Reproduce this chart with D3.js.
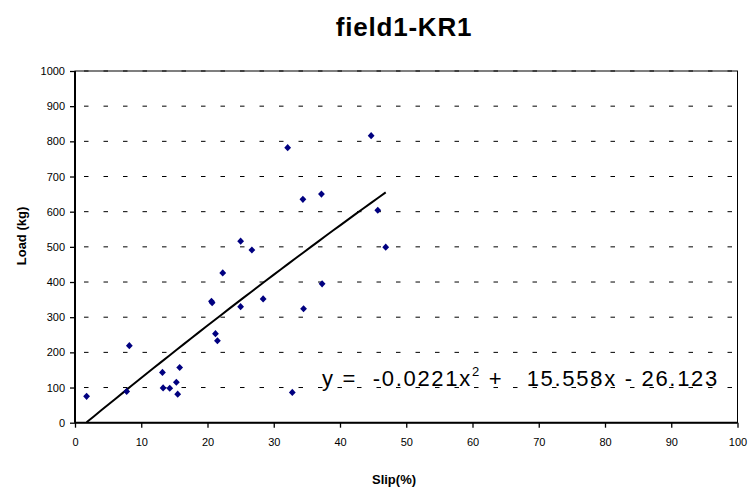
<!DOCTYPE html>
<html><head><meta charset="utf-8">
<script src="https://cdn.jsdelivr.net/npm/d3@7"></script>
<style>body{margin:0;background:#fff}svg{display:block}</style>
</head><body><svg id="c" width="750" height="495"></svg>
<script>
const slip = [1.75,7.8,8.2,13.2,13.3,14.3,15.3,15.5,15.8,20.6,20.7,21.2,21.5,22.3,25.0,25.0,26.7,28.4,32.1,32.8,34.4,34.5,37.2,37.3,44.7,45.7,46.9];
const load = [75,89,219,143,99,98,115,81,157,345,341,253,233,426,330,516,491,352,782,86,635,324,650,395,816,604,499];
const xTicks = [0,10,20,30,40,50,60,70,80,90,100];
const yTicks = [0,100,200,300,400,500,600,700,800,900,1000];
const coef = [-0.0221, 15.558, -26.123];
const title = "field1-KR1";
const xLabel = "Slip(%)";
const yLabel = "Load (kg)";

const svg = d3.select("#c");
const L=75, R=737.5, T=71, B=422.7;
const x = d3.scaleLinear().domain([0,100]).range([L,R]);
const y = d3.scaleLinear().domain([0,1000]).range([B,T]);
const font = "Liberation Sans, Arial, sans-serif";

// grid
svg.append("g").selectAll("line").data(yTicks.filter(d=>d>0)).join("line")
  .attr("x1",L).attr("x2",R).attr("y1",d=>y(d)).attr("y2",d=>y(d))
  .attr("stroke","#000").attr("stroke-width",1).attr("stroke-dasharray","4.5,15").attr("stroke-dashoffset",-9);
// border
svg.append("rect").attr("x",L).attr("y",T).attr("width",R-L).attr("height",B-T)
  .attr("fill","none").attr("stroke","#000").attr("stroke-width",1);

const xa = svg.append("g").attr("transform",`translate(0,${B})`)
  .call(d3.axisBottom(x).tickValues(xTicks).tickSize(5).tickPadding(11).tickFormat(d3.format("d")));
const ya = svg.append("g").attr("transform",`translate(${L},0)`)
  .call(d3.axisLeft(y).tickValues(yTicks).tickSize(5).tickPadding(5).tickFormat(d3.format("d")));
[xa,ya].forEach(a=>{
  a.select(".domain").attr("stroke","#000").attr("stroke-width",2);
  a.selectAll(".tick line").attr("stroke","#000").attr("stroke-width",1.3);
  a.selectAll("text").attr("font-family",font).attr("font-size",11).attr("fill","#000");
});
xa.select(".domain").attr("d",`M${L},0H${R}`);
ya.select(".domain").attr("d",`M0,${T}V${B}`);

// trendline
const f = v => coef[0]*v*v + coef[1]*v + coef[2];
const xmin = d3.min(slip), xmax = d3.max(slip);
const pts = d3.range(0,41).map(i => xmin + (xmax-xmin)*i/40);
svg.append("path").datum(pts)
  .attr("d", d3.line().x(d=>x(d)).y(d=>y(f(d))))
  .attr("fill","none").attr("stroke","#000").attr("stroke-width",2);

// points
const data = slip.map((s,i)=>({s, l:load[i]}));
svg.append("g").selectAll("path").data(data).join("path")
  .attr("transform",d=>`translate(${x(d.s)},${y(d.l)})`)
  .attr("d", "M0,-3.6L3.4,0L0,3.6L-3.4,0Z")
  .attr("fill","#000080");

// equation
const eq = svg.append("text").attr("x",322).attr("y",386)
  .attr("font-family",font).attr("font-size",22).attr("letter-spacing",1.7).attr("fill","#000")
  .attr("xml:space","preserve").style("white-space","pre");
eq.append("tspan").text("y =  -0.0221x");
eq.append("tspan").attr("font-size",13).attr("dy",-10).text("2");
eq.append("tspan").attr("dy",10).text(" +   15.558x - 26.123");

// title and labels
svg.append("text").attr("x",404).attr("y",36).attr("text-anchor","middle")
  .attr("font-family",font).attr("font-weight","bold").attr("font-size",26).attr("letter-spacing",0.8).text(title);
svg.append("text").attr("x",394).attr("y",484).attr("text-anchor","middle")
  .attr("font-family",font).attr("font-weight","bold").attr("font-size",13).attr("letter-spacing",0).text(xLabel);
svg.append("text").attr("transform","translate(26,236) rotate(-90)").attr("text-anchor","middle")
  .attr("font-family",font).attr("font-weight","bold").attr("font-size",13).text(yLabel);
</script></body></html>
